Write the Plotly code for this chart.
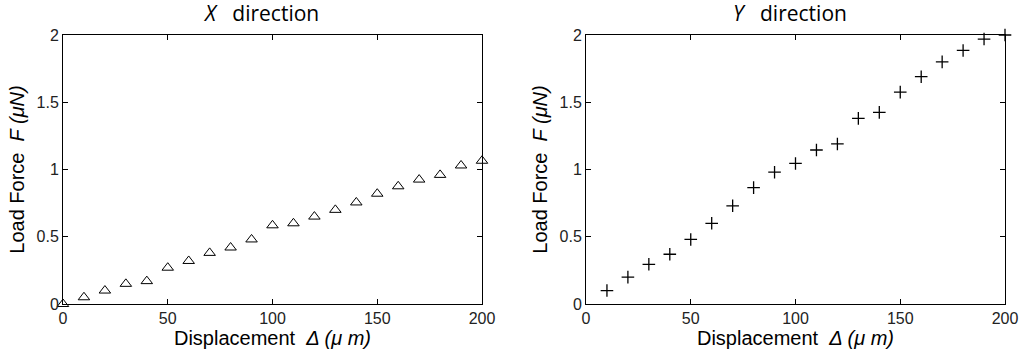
import plotly.graph_objects as go

disp = [0, 10, 20, 30, 40, 50, 60, 70, 80, 90, 100, 110, 120, 130, 140, 150, 160, 170, 180, 190, 200]
force_x = [0.0, 0.05, 0.10, 0.15, 0.17, 0.27, 0.32, 0.38, 0.42, 0.48, 0.585, 0.60, 0.65, 0.70, 0.755,
           0.82, 0.875, 0.925, 0.96, 1.03, 1.065]
disp_y = [10, 20, 30, 40, 50, 60, 70, 80, 90, 100, 110, 120, 130, 140, 150, 160, 170, 180, 190, 200]
force_y = [0.10, 0.20, 0.295, 0.37, 0.48, 0.60, 0.73, 0.865, 0.98, 1.045, 1.145, 1.19, 1.38, 1.425,
           1.575, 1.69, 1.80, 1.885, 1.97, 2.0]
x_ticks = [0, 50, 100, 150, 200]
y_ticks = [0, 0.5, 1, 1.5, 2]
titles = ["<i>X</i>\u00a0\u00a0 direction", "<i>Y</i>\u00a0\u00a0 direction"]

W, H = 1024, 358
fig = go.Figure()
fig.add_trace(go.Scatter(x=disp, y=force_x, mode="markers", xaxis="x", yaxis="y",
                         marker=dict(symbol="triangle-up-open", size=10, color="black",
                                     line=dict(width=1, color="black")),
                         cliponaxis=False, showlegend=False))
fig.add_trace(go.Scatter(x=disp_y, y=force_y, mode="markers", xaxis="x2", yaxis="y2",
                         marker=dict(symbol="cross-thin-open", size=9, color="black",
                                     line=dict(width=1.3, color="black")),
                         cliponaxis=False, showlegend=False))

tick_font = dict(family="Liberation Sans, Arial", size=16, color="#222")
title_font = dict(family="Liberation Sans, Arial", size=20, color="black")
common = dict(showline=True, linecolor="black", linewidth=1, mirror="ticks", ticks="inside",
              ticklen=5, tickcolor="black", showgrid=False, zeroline=False,
              tickfont=tick_font, automargin=False)

def px_x(p):
    return p / W

def px_y(p):
    return 1 - p / H

yd = [px_y(304), px_y(35)]
xd1 = [px_x(63), px_x(482)]
xd2 = [px_x(586), px_x(1005)]

xt = "Displacement\u00a0 <i>\u0394 (\u03bc m)</i>"
yt = "Load Force\u00a0 <i>F (\u03bcN)</i>"

fig.update_layout(
    width=W, height=H, margin=dict(l=0, r=0, t=0, b=0),
    paper_bgcolor="white", plot_bgcolor="white",
    xaxis=dict(domain=xd1, range=[0, 200], tickvals=x_ticks, anchor="y",
               title=dict(text=xt, font=title_font, standoff=2), **common),
    yaxis=dict(domain=yd, range=[0, 2], tickvals=y_ticks, anchor="x",
               title=dict(text=yt, font=title_font, standoff=6), **common),
    xaxis2=dict(domain=xd2, range=[0, 200], tickvals=x_ticks, anchor="y2",
                title=dict(text=xt, font=title_font, standoff=2), **common),
    yaxis2=dict(domain=yd, range=[0, 2], tickvals=y_ticks, anchor="x2",
                title=dict(text=yt, font=title_font, standoff=6), **common),
)

for cx, t in zip([261, 790], titles):
    fig.add_annotation(text=t, x=px_x(cx), y=px_y(13), xref="paper", yref="paper",
                       showarrow=False, xanchor="center", yanchor="middle",
                       font=dict(family="Open Sans, Noto Sans", size=21, color="black"))

fig.write_html("out.html", config={"displayModeBar": False},
               post_script="document.body.style.margin='0';")
